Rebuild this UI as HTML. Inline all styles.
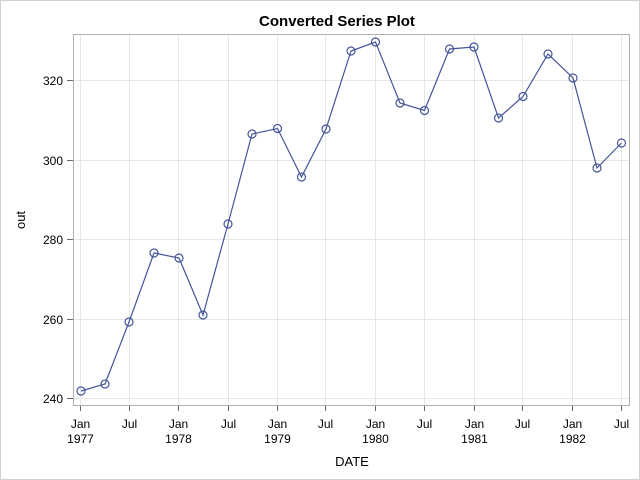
<!DOCTYPE html>
<html><head><style>body{margin:0;background:#fff}svg{display:block}</style></head><body>
<svg width="640" height="480" xmlns="http://www.w3.org/2000/svg" font-family="Liberation Sans, Arial, sans-serif">
<rect x="0.5" y="0.5" width="639" height="479" fill="#fff" stroke="#d0d0d0"/>
<text x="337" y="26" text-anchor="middle" font-size="15" font-weight="bold">Converted Series Plot</text>
<g stroke="#e6e6e6" stroke-width="1">
<line x1="80.5" y1="34" x2="80.5" y2="405"/><line x1="129.5" y1="34" x2="129.5" y2="405"/>
<line x1="178.5" y1="34" x2="178.5" y2="405"/><line x1="228.5" y1="34" x2="228.5" y2="405"/>
<line x1="277.5" y1="34" x2="277.5" y2="405"/><line x1="325.5" y1="34" x2="325.5" y2="405"/>
<line x1="375.5" y1="34" x2="375.5" y2="405"/><line x1="424.5" y1="34" x2="424.5" y2="405"/>
<line x1="474.5" y1="34" x2="474.5" y2="405"/><line x1="522.5" y1="34" x2="522.5" y2="405"/>
<line x1="572.5" y1="34" x2="572.5" y2="405"/><line x1="621.5" y1="34" x2="621.5" y2="405"/>
<line x1="73" y1="398.5" x2="629" y2="398.5"/><line x1="73" y1="319.5" x2="629" y2="319.5"/>
<line x1="73" y1="239.5" x2="629" y2="239.5"/><line x1="73" y1="160.5" x2="629" y2="160.5"/>
<line x1="73" y1="80.5" x2="629" y2="80.5"/>
</g>
<rect x="73.5" y="34.5" width="556" height="371" fill="none" stroke="#b0b0b0"/>
<g stroke="#666">
<line x1="67" y1="398.5" x2="73" y2="398.5"/><line x1="67" y1="319.5" x2="73" y2="319.5"/>
<line x1="67" y1="239.5" x2="73" y2="239.5"/><line x1="67" y1="160.5" x2="73" y2="160.5"/>
<line x1="67" y1="80.5" x2="73" y2="80.5"/>
<line x1="80.5" y1="406" x2="80.5" y2="411"/><line x1="129.5" y1="406" x2="129.5" y2="411"/>
<line x1="178.5" y1="406" x2="178.5" y2="411"/><line x1="228.5" y1="406" x2="228.5" y2="411"/>
<line x1="277.5" y1="406" x2="277.5" y2="411"/><line x1="325.5" y1="406" x2="325.5" y2="411"/>
<line x1="375.5" y1="406" x2="375.5" y2="411"/><line x1="424.5" y1="406" x2="424.5" y2="411"/>
<line x1="474.5" y1="406" x2="474.5" y2="411"/><line x1="522.5" y1="406" x2="522.5" y2="411"/>
<line x1="572.5" y1="406" x2="572.5" y2="411"/><line x1="621.5" y1="406" x2="621.5" y2="411"/>
</g>
<g font-size="12" text-anchor="end" fill="#000">
<text x="63" y="403">240</text><text x="63" y="324">260</text><text x="63" y="244">280</text><text x="63" y="165">300</text><text x="63" y="85">320</text>
</g>
<g font-size="12" text-anchor="middle">
<text x="80.5" y="428">Jan</text><text x="80.5" y="443">1977</text>
<text x="129.5" y="428">Jul</text>
<text x="178.5" y="428">Jan</text><text x="178.5" y="443">1978</text>
<text x="228.5" y="428">Jul</text>
<text x="277.5" y="428">Jan</text><text x="277.5" y="443">1979</text>
<text x="325.5" y="428">Jul</text>
<text x="375.5" y="428">Jan</text><text x="375.5" y="443">1980</text>
<text x="424.5" y="428">Jul</text>
<text x="474.5" y="428">Jan</text><text x="474.5" y="443">1981</text>
<text x="522.5" y="428">Jul</text>
<text x="572.5" y="428">Jan</text><text x="572.5" y="443">1982</text>
<text x="621.5" y="428">Jul</text>
</g>
<text x="352" y="466" text-anchor="middle" font-size="13">DATE</text>
<text transform="translate(25,220) rotate(-90)" text-anchor="middle" font-size="13">out</text>
<polyline fill="none" stroke="#445599" stroke-width="1.2" points="81,391 105,384 129,322 154,253 179,258 203,315 228,224 252,134 277.5,128.5 301.5,177 326,129 351,51 375.5,42 400,103 424.5,110.5 449.5,49 474,47 498.5,118 523,96.5 548,54 573,78 597,168 621.5,143"/>
<g fill="none" stroke="#445599" stroke-width="1.2">
<circle cx="81" cy="391" r="4"/><circle cx="105" cy="384" r="4"/><circle cx="129" cy="322" r="4"/><circle cx="154" cy="253" r="4"/><circle cx="179" cy="258" r="4"/><circle cx="203" cy="315" r="4"/><circle cx="228" cy="224" r="4"/><circle cx="252" cy="134" r="4"/><circle cx="277.5" cy="128.5" r="4"/><circle cx="301.5" cy="177" r="4"/><circle cx="326" cy="129" r="4"/><circle cx="351" cy="51" r="4"/><circle cx="375.5" cy="42" r="4"/><circle cx="400" cy="103" r="4"/><circle cx="424.5" cy="110.5" r="4"/><circle cx="449.5" cy="49" r="4"/><circle cx="474" cy="47" r="4"/><circle cx="498.5" cy="118" r="4"/><circle cx="523" cy="96.5" r="4"/><circle cx="548" cy="54" r="4"/><circle cx="573" cy="78" r="4"/><circle cx="597" cy="168" r="4"/><circle cx="621.5" cy="143" r="4"/>
</g>
</svg>
</body></html>
